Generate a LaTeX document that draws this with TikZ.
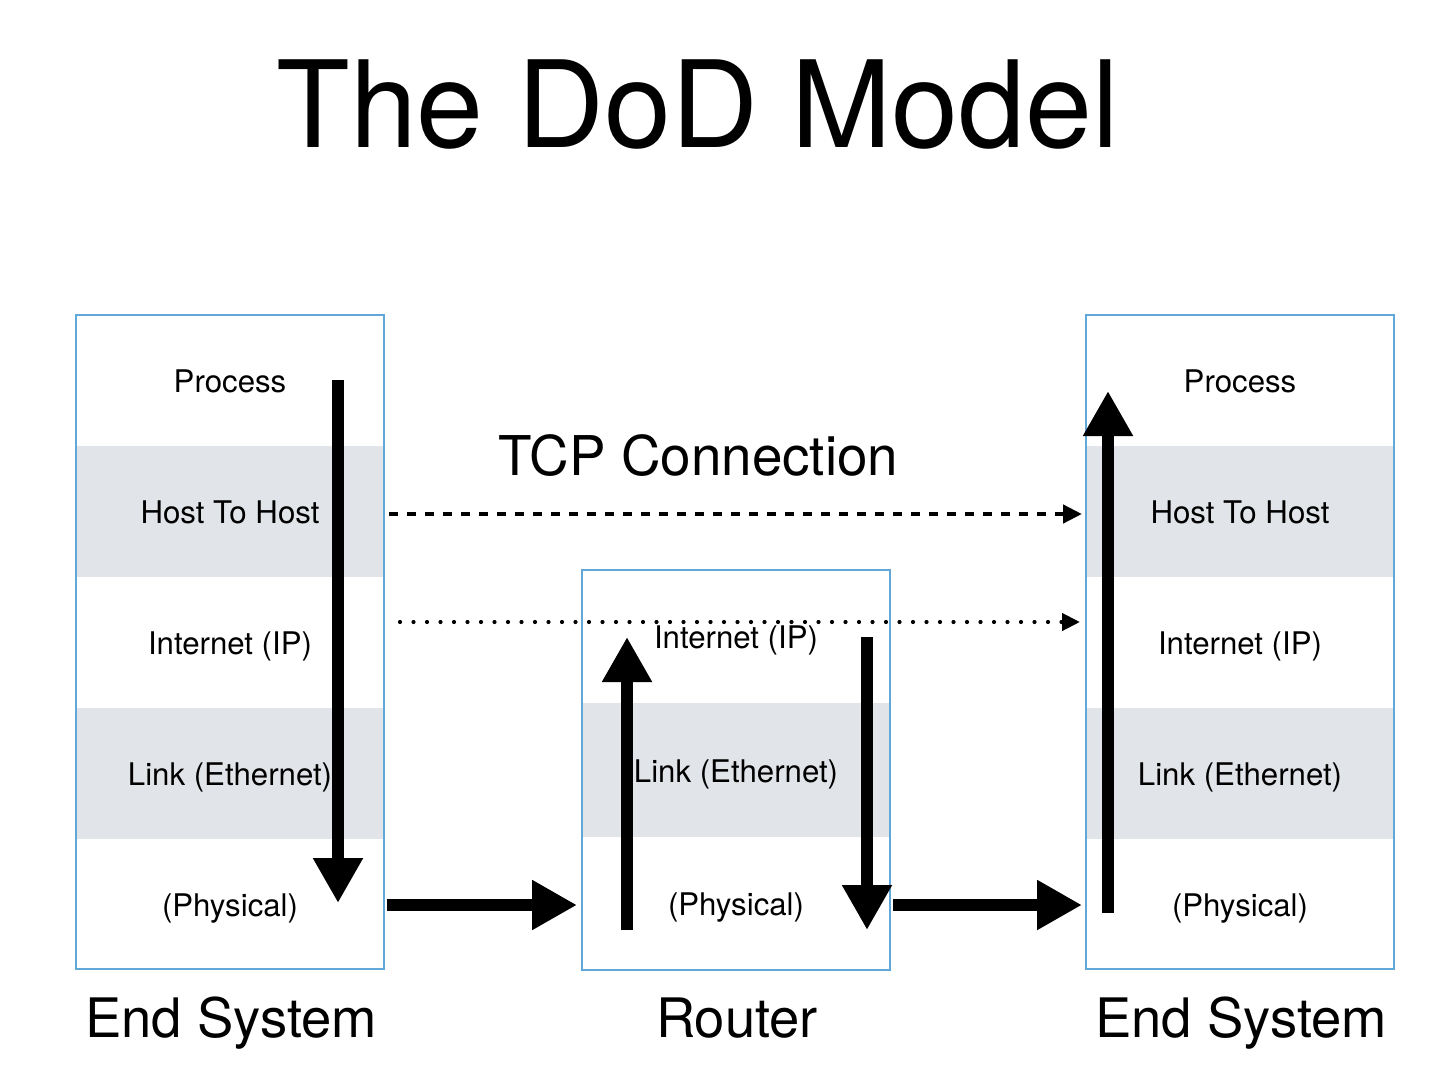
\documentclass[tikz,border=0pt]{standalone}
\usepackage{fontspec}
\setmainfont{TeX Gyre Heros}
\usetikzlibrary{arrows.meta}
\definecolor{boxblue}{RGB}{95,168,215}
\definecolor{bandgray}{RGB}{225,228,232}
\begin{document}
\begin{tikzpicture}[x=0.5pt,y=-0.5pt,
  band/.style={minimum width=154pt, inner sep=0pt, outer sep=0pt, draw=none,
    text height=13pt, text depth=1pt,
    font=\fontsize{15.6}{18}\selectfont, anchor=center},
  graybox/.style={band, fill=bandgray},
  whitebox/.style={band, fill=white},
  outline/.style={draw=boxblue, line width=0.7pt, minimum width=154pt, inner sep=0pt, outer sep=0pt},
  bigarrow/.style={line width=6pt, -{Triangle[length=22.5pt,width=23.5pt]}},
  dasharrow/.style={line width=2.2pt, dash pattern=on 4.5pt off 4.5pt, -{Triangle[length=9.5pt,width=9pt]}},
  dotarrow/.style={line width=2.1pt, line cap=round, dash pattern=on 0pt off 6.75pt, -{Triangle[length=9pt,width=8.5pt]}},
  bigtitle/.style={font=\fontsize{60.2}{70}\selectfont, anchor=base, inner sep=0pt},
  caption/.style={font=\fontsize{27.2}{32}\selectfont, anchor=base, inner sep=0pt}
]
\useasboundingbox (0,0) rectangle (1447,1065);

% title
\node[bigtitle] (title) at (698,148) {The DoD Model};

% left end system
\node[whitebox, minimum height=65.5pt] (L1) at (230,380.5) {Process};
\node[graybox,  minimum height=65.5pt] (L2) at (230,511.5) {Host To Host};
\node[whitebox, minimum height=65.5pt] (L3) at (230,642.5) {Internet (IP)};
\node[graybox,  minimum height=65.5pt] (L4) at (230,773.5) {Link (Ethernet)};
\node[whitebox, minimum height=65.5pt] (L5) at (230,904.5) {(Physical)};
\node[outline, minimum height=327pt] (Lbox) at (230,642) {};

% right end system
\node[whitebox, minimum height=65.5pt] (R1) at (1240,380.5) {Process};
\node[graybox,  minimum height=65.5pt] (R2) at (1240,511.5) {Host To Host};
\node[whitebox, minimum height=65.5pt] (R3) at (1240,642.5) {Internet (IP)};
\node[graybox,  minimum height=65.5pt] (R4) at (1240,773.5) {Link (Ethernet)};
\node[whitebox, minimum height=65.5pt] (R5) at (1240,904.5) {(Physical)};
\node[outline, minimum height=327pt] (Rbox) at (1240,642) {};

% router
\node[whitebox, minimum height=66.5pt] (M1) at (736,636.5) {Internet (IP)};
\node[graybox,  minimum height=67pt]   (M2) at (736,770) {Link (Ethernet)};
\node[whitebox, minimum height=66.5pt] (M3) at (736,903.5) {(Physical)};
\node[outline, minimum height=200pt] (Mbox) at (736,770) {};

% captions
\node[caption] (capL) at (231,1037) {End System};
\node[caption] (capM) at (737,1037) {Router};
\node[caption] (capR) at (1241,1037) {End System};
\node[font=\fontsize{27.4}{32}\selectfont, anchor=base, inner sep=0pt] (tcp) at (698.5,475) {TCP Connection};

% coordinates for arrows
\coordinate (ldTop) at (338,380);
\coordinate (ldBot) at (338,903);
\coordinate (h1s) at (387,905);
\coordinate (h1e) at (577,905);
\coordinate (muBot) at (627,930);
\coordinate (muTop) at (627,637);
\coordinate (mdTop) at (867,637);
\coordinate (mdBot) at (867,930);
\coordinate (h2s) at (893,905);
\coordinate (h2e) at (1082,905);
\coordinate (ruBot) at (1108,913);
\coordinate (ruTop) at (1108,391);
\coordinate (dashS) at (389,514);
\coordinate (dashE) at (1082,514);
\coordinate (dotS) at (400,622);
\coordinate (dotE) at (1080,622);

% dashed / dotted connections
\draw[dasharrow] (dashS) -- (dashE);
\draw[dotarrow] (dotS) -- (dotE);

% big arrows
\draw[bigarrow] (ldTop) -- (ldBot);
\draw[bigarrow] (h1s) -- (h1e);
\draw[bigarrow] (muBot) -- (muTop);
\draw[bigarrow] (mdTop) -- (mdBot);
\draw[bigarrow] (h2s) -- (h2e);
\draw[bigarrow] (ruBot) -- (ruTop);
\end{tikzpicture}
\end{document}
